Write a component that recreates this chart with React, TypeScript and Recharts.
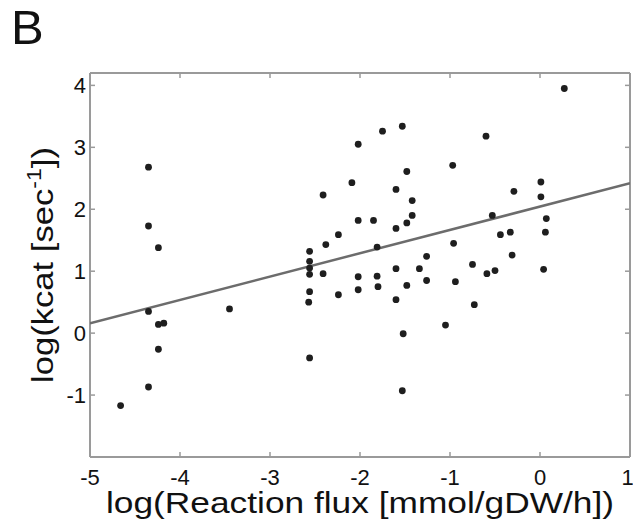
import { ScatterChart, Scatter, XAxis, YAxis, Label } from "recharts";

// log reaction flux (x) and log kcat (y) for each measured enzyme
const fluxX = [
  -4.66, -4.35, -4.35, -4.24, -4.35, -4.24, -4.18, -4.24, -4.35, -3.45,
  -2.56, -2.56, -2.56, -2.56, -2.56, -2.57, -2.56, -2.41, -2.38, -2.41,
  -2.24, -2.24, -2.09, -2.02, -2.02, -2.02, -2.02, -1.85, -1.81, -1.81,
  -1.8, -1.75, -1.6, -1.6, -1.6, -1.6, -1.53, -1.52, -1.53, -1.48,
  -1.42, -1.42, -1.48, -1.48, -1.34, -1.26, -1.26, -1.05, -0.97, -0.96,
  -0.94, -0.75, -0.73, -0.6, -0.53, -0.59, -0.5, -0.44, -0.33, -0.31,
  -0.29, 0.01, 0.01, 0.07, 0.06, 0.04, 0.27,
];
const kcatY = [
  -1.17, 2.68, 1.73, 1.38, 0.35, 0.14, 0.16, -0.26, -0.87, 0.39,
  1.32, 1.16, 1.05, 0.95, 0.67, 0.5, -0.4, 2.23, 1.43, 0.96,
  1.59, 0.62, 2.43, 3.05, 1.82, 0.91, 0.7, 1.82, 1.39, 0.92,
  0.75, 3.26, 2.32, 1.69, 1.04, 0.54, 3.34, -0.01, -0.93, 2.61,
  2.14, 1.9, 1.78, 0.77, 1.04, 1.24, 0.85, 0.13, 2.71, 1.45,
  0.83, 1.11, 0.46, 3.18, 1.9, 0.96, 1.01, 1.59, 1.63, 1.26,
  2.29, 2.44, 2.2, 1.85, 1.63, 1.03, 3.95,
];

// regression line end points
const fitX = [-5, 1];
const fitY = [0.16, 2.42];

const xTicks = [-5, -4, -3, -2, -1, 0, 1];
const yTicks = [-1, 0, 1, 2, 3, 4];

const points = fluxX.map((x, i) => ({ x, y: kcatY[i] }));
const fitLine = fitX.map((x, i) => ({ x, y: fitY[i] }));

const FONT = '"Liberation Sans", Arial, Helvetica, sans-serif';
const BOX = "#9a9a9a";
const noTick = () => <g />;

const Dot = (props: any) => <circle cx={props.cx} cy={props.cy} r={3.4} fill="#1e1e1e" />;

export default function App() {
  return (
    <div style={{ position: "absolute", left: 0, top: 0, width: 633, height: 524, background: "#fff" }}>
      <ScatterChart width={633} height={524} margin={{ top: 73, right: 3, bottom: 0, left: 0 }}>
        <XAxis
          dataKey="x"
          type="number"
          domain={[-5, 1]}
          ticks={xTicks}
          allowDataOverflow
          height={67}
          tickLine={false}
          tickSize={0}
          tickMargin={12}
          axisLine={{ stroke: BOX, strokeWidth: 2 }}
          tick={{ fill: "#111", fontSize: 22, fontFamily: FONT }}
        >
          <Label
            content={() => (
              <text
                x={360}
                y={513}
                textAnchor="middle"
                fontFamily={FONT}
                fontSize={30}
                fill="#111"
                textLength={508}
                lengthAdjust="spacingAndGlyphs"
              >
                log(Reaction flux [mmol/gDW/h])
              </text>
            )}
          />
        </XAxis>
        <XAxis
          xAxisId="bottomTicks"
          dataKey="x"
          type="number"
          domain={[-5, 1]}
          ticks={xTicks}
          allowDataOverflow
          orientation="bottom"
          mirror
          height={20}
          tick={noTick}
          tickSize={5}
          tickLine={{ stroke: BOX, strokeWidth: 1.5 }}
          axisLine={false}
        />
        <XAxis
          xAxisId="top"
          dataKey="x"
          type="number"
          domain={[-5, 1]}
          ticks={xTicks}
          allowDataOverflow
          orientation="top"
          mirror
          height={20}
          tick={noTick}
          tickSize={5}
          tickLine={{ stroke: BOX, strokeWidth: 1.5 }}
          axisLine={{ stroke: BOX, strokeWidth: 2 }}
        />
        <YAxis
          dataKey="y"
          type="number"
          domain={[-2, 4.2]}
          ticks={yTicks}
          allowDataOverflow
          width={90}
          tickLine={false}
          tickSize={0}
          tickMargin={4}
          axisLine={{ stroke: BOX, strokeWidth: 2 }}
          tick={{ fill: "#111", fontSize: 22, fontFamily: FONT }}
        >
          <Label
            content={() => (
              <g>
                <text x={11} y={44} fontFamily={FONT} fontSize={49} fill="#111">
                  B
                </text>
                <text
                  transform="translate(53,265) rotate(-90)"
                  textAnchor="middle"
                  fontFamily={FONT}
                  fontSize={30}
                  fill="#111"
                  textLength={236}
                  lengthAdjust="spacingAndGlyphs"
                >
                  log(kcat [sec
                  <tspan fontSize={20} dy={-12}>-1</tspan>
                  <tspan dy={12}>])</tspan>
                </text>
              </g>
            )}
          />
        </YAxis>
        <YAxis
          yAxisId="leftTicks"
          dataKey="y"
          type="number"
          domain={[-2, 4.2]}
          ticks={yTicks}
          allowDataOverflow
          orientation="left"
          mirror
          width={20}
          tick={noTick}
          tickSize={5}
          tickLine={{ stroke: BOX, strokeWidth: 1.5 }}
          axisLine={false}
        />
        <YAxis
          yAxisId="right"
          dataKey="y"
          type="number"
          domain={[-2, 4.2]}
          ticks={yTicks}
          allowDataOverflow
          orientation="right"
          mirror
          width={20}
          tick={noTick}
          tickSize={5}
          tickLine={{ stroke: BOX, strokeWidth: 1.5 }}
          axisLine={{ stroke: BOX, strokeWidth: 2 }}
        />
        <Scatter
          data={fitLine}
          line={{ stroke: "#6c6c6c", strokeWidth: 2.5 }}
          lineType="joint"
          shape={() => <g />}
          isAnimationActive={false}
        />
        <Scatter data={points} shape={Dot} isAnimationActive={false} />
      </ScatterChart>
    </div>
  );
}
